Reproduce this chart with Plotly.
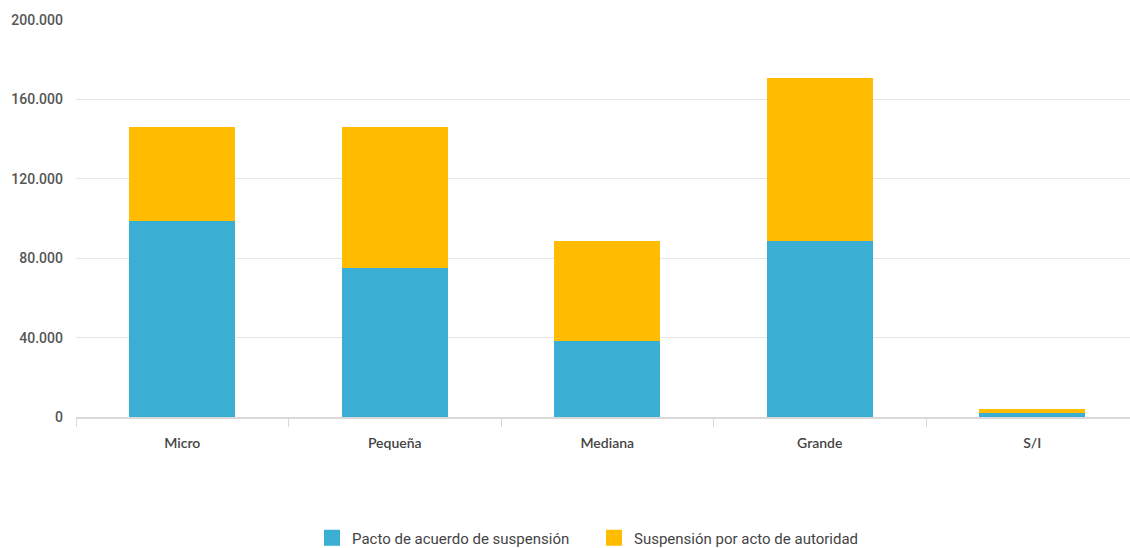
import plotly.graph_objects as go

categories = ["Micro", "Pequeña", "Mediana", "Grande", "S/I"]
pacto = [98500, 75000, 38300, 88500, 2000]
autoridad = [47500, 71000, 50200, 82300, 1800]
series_names = ["Pacto de acuerdo de suspensión", "Suspensión por acto de autoridad"]
series_colors = ["#3AAFD3", "#FFBC00"]
tick_vals = [0, 40000, 80000, 120000, 160000, 200000]

fig = go.Figure()
for vals, name, col in zip([pacto, autoridad], series_names, series_colors):
    fig.add_trace(go.Bar(x=categories, y=vals, name=name, marker_color=col,
                         marker_line_width=0, showlegend=False))
# legend entries with larger square swatches
for name, col in zip(series_names, series_colors):
    fig.add_trace(go.Scatter(x=[None], y=[None], mode="markers", name=name,
                             marker=dict(symbol="square", size=16, color=col, line_width=0),
                             showlegend=True, hoverinfo="skip"))

fig.update_layout(
    barmode="stack",
    bargap=0.5,
    width=1130, height=548,
    margin=dict(l=76, r=0, t=20, b=131, autoexpand=False),
    paper_bgcolor="white", plot_bgcolor="white",
    separators=",.",
    font=dict(family="Roboto", size=14, color="#555555"),
    legend=dict(orientation="h", x=0.5 - 9 / 1054, xanchor="center",
                y=-(538 - 417) / 397, yanchor="middle",
                font=dict(family="Roboto", size=15, color="#444444"),
                itemwidth=30, traceorder="normal", entrywidth=237),
    showlegend=True,
)
fig.update_yaxes(range=[0, 200000], tickvals=tick_vals, tickformat=",d",
                 gridcolor="#e6e6e6", gridwidth=1, zeroline=False, showline=False,
                 ticks="", ticklabelstandoff=12,
                 tickfont=dict(family="Roboto", size=14, color="#555555", weight=500))
fig.update_xaxes(range=[-0.5, 4.46], showline=True, linecolor="#d9d9d9", linewidth=2,
                 ticks="outside", tickson="boundaries", ticklen=8, tickcolor="#d9d9d9",
                 tickfont=dict(family="Lato", size=14, color="#444444", weight=600),
                 ticklabelstandoff=12)

fig.write_html("out.html")
